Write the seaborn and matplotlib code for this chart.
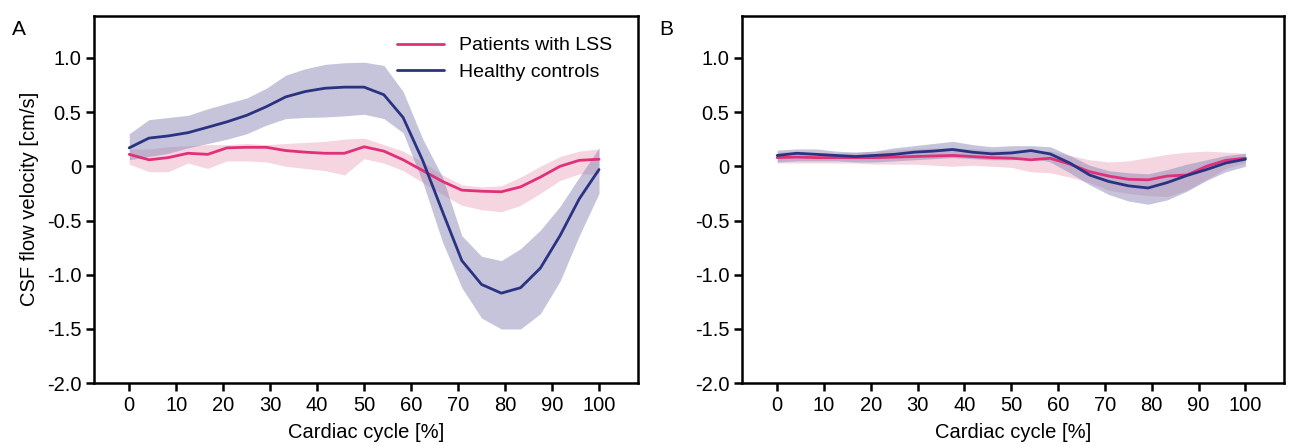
import numpy as np
import pandas as pd
import seaborn as sns
from matplotlib import pyplot as plt

# cardiac cycle sample points [%]
cycle = [0, 4.2, 8.3, 12.5, 16.7, 20.8, 25, 29.2, 33.3, 37.5, 41.7, 45.8, 50,
         54.2, 58.3, 62.5, 66.7, 70.8, 75, 79.2, 83.3, 87.5, 91.7, 95.8, 100]

# panel A - mean and band (lower / upper)
a_lss = [0.11, 0.06, 0.08, 0.12, 0.11, 0.17, 0.175, 0.175, 0.145, 0.13, 0.12, 0.12, 0.18,
         0.14, 0.06, -0.04, -0.14, -0.22, -0.23, -0.235, -0.19, -0.10, 0.0, 0.055, 0.065]
a_lss_lo = [0.02, -0.05, -0.05, 0.03, -0.02, 0.05, 0.05, 0.04, 0.0, -0.02, -0.04, -0.08, 0.07,
            0.03, -0.04, -0.15, -0.26, -0.36, -0.40, -0.42, -0.36, -0.25, -0.13, -0.07, -0.07]
a_lss_hi = [0.16, 0.16, 0.18, 0.19, 0.20, 0.20, 0.21, 0.20, 0.21, 0.22, 0.23, 0.25, 0.26,
            0.20, 0.14, 0.04, -0.08, -0.17, -0.19, -0.18, -0.10, 0.0, 0.09, 0.14, 0.16]
a_hc = [0.17, 0.26, 0.28, 0.31, 0.36, 0.41, 0.47, 0.55, 0.64, 0.69, 0.72, 0.73, 0.73,
        0.66, 0.45, 0.05, -0.42, -0.87, -1.09, -1.17, -1.12, -0.94, -0.64, -0.30, -0.03]
a_hc_lo = [0.06, 0.09, 0.12, 0.17, 0.21, 0.25, 0.30, 0.38, 0.44, 0.45, 0.455, 0.465, 0.48,
           0.44, 0.31, -0.15, -0.70, -1.12, -1.40, -1.50, -1.50, -1.36, -1.06, -0.64, -0.25]
a_hc_hi = [0.30, 0.43, 0.45, 0.47, 0.53, 0.58, 0.63, 0.72, 0.84, 0.90, 0.94, 0.955, 0.96,
           0.93, 0.69, 0.25, -0.10, -0.64, -0.83, -0.87, -0.76, -0.59, -0.37, -0.10, 0.17]

# panel B
b_lss = [0.08, 0.085, 0.08, 0.08, 0.08, 0.08, 0.085, 0.09, 0.095, 0.10, 0.09, 0.08, 0.075,
         0.06, 0.074, 0.02, -0.05, -0.09, -0.12, -0.125, -0.09, -0.08, 0.0, 0.055, 0.075]
b_lss_lo = [0.03, 0.03, 0.03, 0.03, 0.03, 0.02, 0.02, 0.02, 0.01, 0.0, 0.01, 0.0, -0.01,
            -0.05, -0.06, -0.10, -0.15, -0.22, -0.25, -0.27, -0.28, -0.22, -0.12, -0.02, 0.03]
b_lss_hi = [0.13, 0.14, 0.13, 0.12, 0.13, 0.14, 0.15, 0.16, 0.17, 0.17, 0.16, 0.15, 0.15,
            0.15, 0.14, 0.10, 0.06, 0.04, 0.05, 0.08, 0.11, 0.13, 0.14, 0.13, 0.12]
b_hc = [0.10, 0.12, 0.11, 0.10, 0.09, 0.10, 0.11, 0.13, 0.14, 0.155, 0.13, 0.115, 0.123,
        0.145, 0.114, 0.03, -0.08, -0.14, -0.18, -0.20, -0.15, -0.085, -0.03, 0.03, 0.065]
b_hc_lo = [0.04, 0.05, 0.05, 0.05, 0.04, 0.04, 0.05, 0.06, 0.07, 0.08, 0.07, 0.06, 0.06,
           0.08, 0.04, -0.06, -0.17, -0.26, -0.32, -0.35, -0.31, -0.23, -0.13, -0.05, 0.0]
b_hc_hi = [0.15, 0.16, 0.16, 0.14, 0.13, 0.14, 0.17, 0.19, 0.21, 0.23, 0.20, 0.18, 0.19,
           0.19, 0.18, 0.10, 0.01, -0.04, -0.06, -0.07, -0.03, 0.02, 0.06, 0.10, 0.12]

groups = ['Patients with LSS', 'Healthy controls']
colors = {'Patients with LSS': '#e0307a', 'Healthy controls': '#2a3382'}
band_colors = {'Patients with LSS': '#eba2bc', 'Healthy controls': '#8c8ab8'}

yticks = [1.0, 0.5, 0, -0.5, -1.0, -1.5, -2.0]
ytick_labels = ['1.0', '0.5', '0', '-0.5', '-1.0', '-1.5', '-2.0']
xticks = [0, 10, 20, 30, 40, 50, 60, 70, 80, 90, 100]


def make_frame(lss, hc):
    return pd.DataFrame({
        'cycle': cycle * 2,
        'velocity': lss + hc,
        'group': [groups[0]] * len(cycle) + [groups[1]] * len(cycle),
    })


def draw_panel(ax, lss, lss_band, hc, hc_band, legend):
    df = make_frame(lss, hc)
    ax.fill_between(cycle, lss_band[0], lss_band[1], color=band_colors[groups[0]],
                    alpha=0.45, lw=0)
    ax.fill_between(cycle, hc_band[0], hc_band[1], color=band_colors[groups[1]],
                    alpha=0.5, lw=0)
    sns.lineplot(data=df, x='cycle', y='velocity', hue='group', hue_order=groups,
                 palette=colors, linewidth=2, ax=ax, legend=legend)

    ax.set_xlim(-7.5, 108.3)
    ax.set_ylim(-2.0, 1.39)
    ax.set_xticks(xticks)
    ax.set_yticks(yticks)
    ax.set_yticklabels(ytick_labels)
    ax.set_xlabel('Cardiac cycle [%]', fontsize=14.5, labelpad=6)
    ax.set_ylabel('')
    ax.tick_params(direction='out', length=6, width=1.8, labelsize=14.5,
                   colors='black', pad=3, bottom=True, left=True)
    for s in ax.spines.values():
        s.set_linewidth(1.8)
        s.set_color('black')
        s.set_visible(True)


sns.set_style('ticks')
plt.rcParams['font.family'] = ['Liberation Sans', 'DejaVu Sans']
plt.rcParams['text.color'] = 'black'
plt.rcParams['axes.labelcolor'] = 'black'

fig = plt.figure(figsize=(12.91, 4.45), dpi=100)
ax1 = fig.add_axes([0.0728, 0.139, 0.4214, 0.826])
ax2 = fig.add_axes([0.5748, 0.139, 0.4200, 0.826])

draw_panel(ax1, a_lss, (a_lss_lo, a_lss_hi), a_hc, (a_hc_lo, a_hc_hi), legend=True)
draw_panel(ax2, b_lss, (b_lss_lo, b_lss_hi), b_hc, (b_hc_lo, b_hc_hi), legend=False)

ax1.set_ylabel('CSF flow velocity [cm/s]', fontsize=14.5, labelpad=6)
leg = ax1.legend(title=None, loc='upper right', frameon=False, fontsize=14,
                 handlelength=2.4, handletextpad=0.8, labelspacing=0.45,
                 bbox_to_anchor=(0.985, 0.99))
for line in leg.get_lines():
    line.set_linewidth(2)

fig.text(0.009, 0.922, 'A', fontsize=15)
fig.text(0.511, 0.922, 'B', fontsize=15)

fig.savefig('out.png', dpi=100)
